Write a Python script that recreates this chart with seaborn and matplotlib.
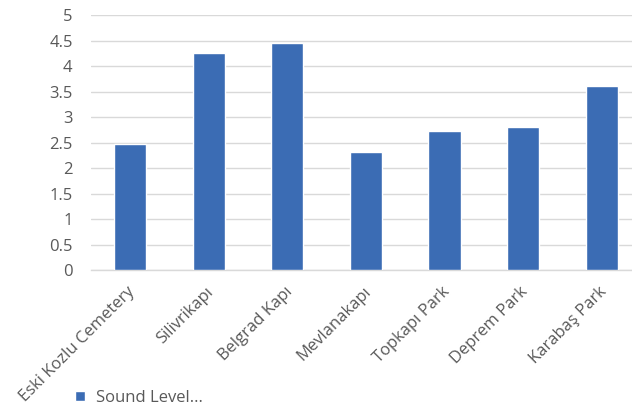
import matplotlib
matplotlib.use("Agg")
import matplotlib.pyplot as plt
import matplotlib.transforms as mtransforms
import seaborn as sns
import pandas as pd

locations = ['Eski Kozlu Cemetery', 'Silivrikapı', 'Belgrad Kapı', 'Mevlanakapı',
             'Topkapı Park', 'Deprem Park', 'Karabaş Park']
sound_level = [2.48, 4.26, 4.45, 2.32, 2.72, 2.80, 3.61]
y_ticks = [0, 0.5, 1, 1.5, 2, 2.5, 3, 3.5, 4, 4.5, 5]
series_name = 'Sound Level...'

df = pd.DataFrame({'Location': locations, 'Sound Level': sound_level})

sns.set_style('white')
plt.rcParams['font.family'] = ['Open Sans', 'DejaVu Sans']

fig = plt.figure(figsize=(6.32, 4.12), dpi=100)
ax = fig.add_axes([90.7 / 632, (412 - 270) / 412, (641 - 90.7) / 632, (270 - 15.3) / 412])

sns.barplot(data=df, x='Location', y='Sound Level', color='#3B6CB4',
            width=0.41, saturation=1, label=series_name, ax=ax, zorder=3)

ax.set_ylim(0, 5)
ax.set_yticks(y_ticks)
ax.set_yticklabels([f'{t:g}' for t in y_ticks])
ax.yaxis.grid(True, color='#d9d9d9', linewidth=1.0, zorder=0)
ax.set_axisbelow(True)
for side in ['left', 'right', 'top']:
    ax.spines[side].set_visible(False)
ax.spines['bottom'].set_color('#d9d9d9')
ax.spines['bottom'].set_linewidth(1.0)
ax.tick_params(axis='both', length=0, colors='#595959', labelsize=12)
ax.tick_params(axis='y', pad=13)
ax.tick_params(axis='x', pad=10)
shift = mtransforms.ScaledTranslation(-3 / 100, 0, fig.dpi_scale_trans)
for lbl in ax.get_xticklabels():
    lbl.set_rotation(45)
    lbl.set_ha('right')
    lbl.set_rotation_mode('anchor')
    lbl.set_transform(lbl.get_transform() + shift)
ax.set_xlabel('')
ax.set_ylabel('')

handles, labels = ax.get_legend_handles_labels()
if ax.get_legend() is not None:
    ax.get_legend().remove()
fig.legend(handles, labels, loc='center left', bbox_to_anchor=(75 / 632, 1 - 398 / 412),
           frameon=False, borderpad=0, borderaxespad=0,
           handlelength=0.6, handleheight=0.6, handletextpad=0.66,
           fontsize=12, labelcolor='#595959')

fig.savefig('out.png', dpi=100)
